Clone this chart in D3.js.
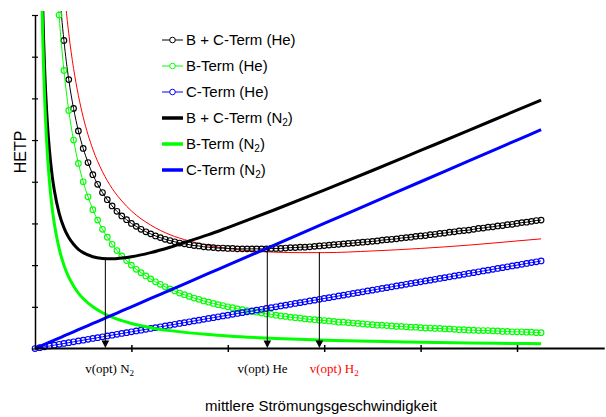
<!DOCTYPE html>
<html><head><meta charset="utf-8">
<script src="https://cdn.jsdelivr.net/npm/d3@7"></script>
<style>body{margin:0;background:#fff}svg{display:block}</style>
</head><body><div id="chart"></div>
<script>
// ---------- DATA ----------
const xTickValues = [1, 2, 3, 4, 5];
const yTickValues = [0, 1, 2, 3, 4, 5, 6, 7, 8];
const xAxisEnd = 5.91;

// He series (markers every 0.05 speed units)
const heSpeed = [0,0.05,0.1,0.15,0.2,0.25,0.3,0.35,0.4,0.45,0.5,0.55,0.6,0.65,0.7,0.75,0.8,0.85,0.9,0.95,1,1.05,1.1,1.15,1.2,1.25,1.3,1.35,1.4,1.45,1.5,1.55,1.6,1.65,1.7,1.75,1.8,1.85,1.9,1.95,2,2.05,2.1,2.15,2.2,2.25,2.3,2.35,2.4,2.45,2.5,2.55,2.6,2.65,2.7,2.75,2.8,2.85,2.9,2.95,3,3.05,3.1,3.15,3.2,3.25,3.3,3.35,3.4,3.45,3.5,3.55,3.6,3.65,3.7,3.75,3.8,3.85,3.9,3.95,4,4.05,4.1,4.15,4.2,4.25,4.3,4.35,4.4,4.45,4.5,4.55,4.6,4.65,4.7,4.75,4.8,4.85,4.9,4.95,5,5.05,5.1,5.15,5.2,5.25];
const heBCTerm = [null,null,null,null,10.68,8.70,7.39,6.45,5.76,5.22,4.80,4.46,4.17,3.94,3.74,3.57,3.42,3.29,3.18,3.09,3.00,2.93,2.86,2.80,2.75,2.70,2.66,2.62,2.59,2.56,2.53,2.51,2.49,2.47,2.46,2.44,2.43,2.42,2.41,2.41,2.40,2.40,2.39,2.39,2.39,2.39,2.39,2.39,2.39,2.40,2.40,2.40,2.41,2.42,2.42,2.43,2.43,2.44,2.45,2.46,2.47,2.48,2.49,2.50,2.51,2.52,2.53,2.54,2.55,2.56,2.57,2.58,2.60,2.61,2.62,2.63,2.65,2.66,2.67,2.69,2.70,2.71,2.73,2.74,2.76,2.77,2.79,2.80,2.82,2.83,2.84,2.86,2.88,2.89,2.91,2.92,2.94,2.95,2.97,2.98,3.00,3.02,3.03,3.05,3.07,3.08];
const heBTerm = [null,null,null,null,10,8,6.67,5.71,5,4.44,4,3.64,3.33,3.08,2.86,2.67,2.5,2.35,2.22,2.11,2,1.9,1.82,1.74,1.67,1.6,1.54,1.48,1.43,1.38,1.33,1.29,1.25,1.21,1.18,1.14,1.11,1.08,1.05,1.03,1,0.98,0.95,0.93,0.91,0.89,0.87,0.85,0.83,0.82,0.8,0.78,0.77,0.75,0.74,0.73,0.71,0.7,0.69,0.68,0.67,0.66,0.65,0.63,0.63,0.62,0.61,0.6,0.59,0.58,0.57,0.56,0.56,0.55,0.54,0.53,0.53,0.52,0.51,0.51,0.5,0.49,0.49,0.48,0.48,0.47,0.47,0.46,0.45,0.45,0.44,0.44,0.43,0.43,0.43,0.42,0.42,0.41,0.41,0.4,0.4,0.4,0.39,0.39,0.38,0.38];
const heCTerm = [0,0.02,0.04,0.06,0.08,0.10,0.12,0.14,0.16,0.18,0.20,0.22,0.24,0.26,0.28,0.30,0.32,0.34,0.36,0.38,0.40,0.42,0.44,0.46,0.48,0.50,0.52,0.54,0.56,0.58,0.60,0.62,0.64,0.66,0.68,0.70,0.72,0.74,0.76,0.78,0.80,0.82,0.84,0.86,0.88,0.90,0.92,0.94,0.96,0.98,1.00,1.02,1.04,1.06,1.08,1.10,1.12,1.14,1.16,1.18,1.20,1.22,1.24,1.26,1.28,1.30,1.32,1.34,1.36,1.38,1.40,1.42,1.44,1.46,1.48,1.50,1.52,1.54,1.56,1.58,1.60,1.62,1.64,1.66,1.68,1.70,1.72,1.74,1.76,1.78,1.80,1.82,1.84,1.86,1.88,1.90,1.92,1.94,1.96,1.98,2.00,2.02,2.04,2.06,2.08,2.10];

// N2 series (thick lines)
const n2Speed  = [0,0.06,0.07,0.08,0.09,0.1,0.12,0.14,0.16,0.18,0.2,0.25,0.3,0.35,0.4,0.45,0.5,0.6,0.7,0.8,0.9,1.0,1.2,1.4,1.6,1.8,2.0,2.5,3.0,3.5,4.0,4.5,5.0,5.25];
const n2BCTerm = [null,10.66,9.24,8.18,7.36,6.70,5.72,5.03,4.51,4.11,3.80,3.25,2.90,2.66,2.50,2.38,2.30,2.20,2.16,2.15,2.17,2.20,2.30,2.43,2.58,2.73,2.90,3.34,3.80,4.27,4.75,5.23,5.72,5.96];
const n2BTerm  = [null,10,8.57,7.5,6.67,6,5,4.29,3.75,3.33,3,2.4,2,1.71,1.5,1.33,1.2,1,0.857,0.75,0.667,0.6,0.5,0.429,0.375,0.333,0.3,0.24,0.2,0.171,0.15,0.133,0.12,0.114];
const n2CTerm  = [0,0.06,0.07,0.08,0.09,0.1,0.12,0.14,0.16,0.18,0.2,0.25,0.3,0.35,0.4,0.45,0.5,0.6,0.7,0.8,0.9,1.0,1.2,1.4,1.6,1.8,2.0,2.5,3.0,3.5,4.0,4.5,5.0,5.25];

// H2 total curve (thin red)
const h2Speed  = [0.3,0.32,0.35,0.4,0.45,0.5,0.6,0.7,0.8,0.9,1.0,1.2,1.4,1.6,1.8,2.0,2.25,2.5,2.75,3.0,3.5,4.0,4.5,5.0,5.25];
const h2BCTerm = [8.69,8.20,7.56,6.72,6.07,5.55,4.78,4.24,3.84,3.54,3.30,2.96,2.73,2.58,2.47,2.40,2.34,2.31,2.30,2.30,2.34,2.40,2.48,2.58,2.63];

// optimum velocities
const optNames = ["N", "He", "H"];
const optSubs  = ["2", "", "2"];
const optSpeed = [0.73, 2.41, 2.95];
const optHetp  = [2.16, 2.40, 2.31];
const optColors = ["#000", "#000", "#ff0000"];
const optLabelX = [0.52, 2.10, 2.85];

// legend
const legendPre  = ["B + C-Term (He", "B-Term (He", "C-Term (He", "B + C-Term (N", "B-Term (N", "C-Term (N"];
const legendSub  = ["", "", "", "2", "2", "2"];
const legendColors = ["#000000", "#00ff00", "#0000ff", "#000000", "#00ff00", "#0000ff"];
const legendMarker = [true, true, true, false, false, false];

// ---------- CHART ----------
const W = 606, H = 417;
const svg = d3.select("#chart").append("svg").attr("width", W).attr("height", H);
const x = d3.scaleLinear().domain([0, 5]).range([35, 517]);
const y = d3.scaleLinear().domain([0, 8]).range([348.5, 15]);

svg.append("clipPath").attr("id", "clip").append("rect")
  .attr("x", 30).attr("y", 11).attr("width", 580).attr("height", 345);

const plot = svg.append("g").attr("clip-path", "url(#clip)");

function series(sp, vals) { return sp.map((u, i) => ({u, v: vals[i]})); }
const line = d3.line().defined(d => d.v != null).x(d => x(d.u)).y(d => y(d.v)).curve(d3.curveMonotoneX);

// red H2
plot.append("path").datum(series(h2Speed, h2BCTerm)).attr("d", line)
  .attr("fill", "none").attr("stroke", "#ff0000").attr("stroke-width", 1);

// He series
const heSets = [[heBCTerm, "#000000"], [heBTerm, "#00ff00"], [heCTerm, "#0000ff"]];
heSets.forEach(([vals, col]) => {
  const data = series(heSpeed, vals);
  plot.append("path").datum(data).attr("d", line)
    .attr("fill", "none").attr("stroke", col).attr("stroke-width", 1);
  plot.append("g").selectAll("circle").data(data.filter(d => d.v != null)).join("circle")
    .attr("cx", d => x(d.u)).attr("cy", d => y(d.v)).attr("r", 2.8)
    .attr("fill", "none").attr("stroke", col).attr("stroke-width", 1.15);
});

// N2 series
const n2Sets = [[n2BCTerm, "#000000"], [n2BTerm, "#00ff00"], [n2CTerm, "#0000ff"]];
n2Sets.forEach(([vals, col]) => {
  plot.append("path").datum(series(n2Speed, vals)).attr("d", line)
    .attr("fill", "none").attr("stroke", col).attr("stroke-width", 3);
});

// Axes
const xAxis = d3.axisBottom(x).tickValues(xTickValues).tickSize(7).tickSizeOuter(0).tickFormat("");
const gx = svg.append("g").attr("transform", `translate(0,${y(0)})`).call(xAxis);
gx.select(".domain").remove();
gx.selectAll(".tick line").attr("y1", -3.5).attr("y2", 3.5).attr("stroke", "#000").attr("stroke-width", 1.5);
gx.append("line").attr("x1", x(0)).attr("x2", x(xAxisEnd)).attr("stroke", "#000").attr("stroke-width", 2);

const yAxis = d3.axisLeft(y).tickValues(yTickValues).tickSize(6).tickSizeOuter(0).tickFormat("");
const gy = svg.append("g").attr("transform", `translate(${x(0)},0)`).call(yAxis);
gy.select(".domain").attr("stroke", "#000").attr("stroke-width", 1.5);
gy.selectAll(".tick line").attr("x1", -3).attr("x2", 3).attr("stroke", "#000").attr("stroke-width", 1.2);

// optimum arrows
optSpeed.forEach((u, i) => {
  const px = x(u);
  svg.append("line").attr("x1", px).attr("x2", px).attr("y1", y(optHetp[i])).attr("y2", y(0) - 6)
    .attr("stroke", "#111").attr("stroke-width", 1.1);
  svg.append("path").attr("d", `M${px - 3.8},${y(0) - 8}L${px + 3.8},${y(0) - 8}L${px},${y(0) - 0.5}Z`)
    .attr("fill", "#000");
  const t = svg.append("text").attr("x", x(optLabelX[i])).attr("y", 373)
    .attr("font-family", "'Liberation Serif','Times New Roman',serif").attr("font-size", 13)
    .attr("fill", optColors[i]).text("v(opt) " + optNames[i]);
  if (optSubs[i]) t.append("tspan").attr("font-size", 9).attr("dy", 3).text(optSubs[i]);
});

// axis titles
svg.append("text").attr("x", 321).attr("y", 411).attr("text-anchor", "middle")
  .attr("font-family", "'Liberation Sans',Arial,sans-serif").attr("font-size", 15)
  .text("mittlere Strömungsgeschwindigkeit");
svg.append("text").attr("transform", "translate(25.5,152) rotate(-90)").attr("text-anchor", "middle")
  .attr("font-family", "'Liberation Sans',Arial,sans-serif").attr("font-size", 16)
  .text("HETP");

// legend
const lg = svg.append("g");
legendPre.forEach((lab, i) => {
  const ly = 40 + i * 26;
  const col = legendColors[i];
  lg.append("line").attr("x1", 162).attr("x2", 183).attr("y1", ly).attr("y2", ly)
    .attr("stroke", col).attr("stroke-width", legendMarker[i] ? 1 : 3.5);
  if (legendMarker[i]) lg.append("circle").attr("cx", 172.5).attr("cy", ly).attr("r", 2.8)
    .attr("fill", "#fff").attr("stroke", col).attr("stroke-width", 1);
  const t = lg.append("text").attr("x", 186).attr("y", ly + 5.3)
    .attr("font-family", "'Liberation Sans',Arial,sans-serif").attr("font-size", 15).text(lab);
  if (legendSub[i]) {
    t.append("tspan").attr("font-size", 10).attr("dy", 3).text(legendSub[i]);
    t.append("tspan").attr("dy", -3).text(")");
  } else {
    t.append("tspan").text(")");
  }
});
</script>
</body></html>
